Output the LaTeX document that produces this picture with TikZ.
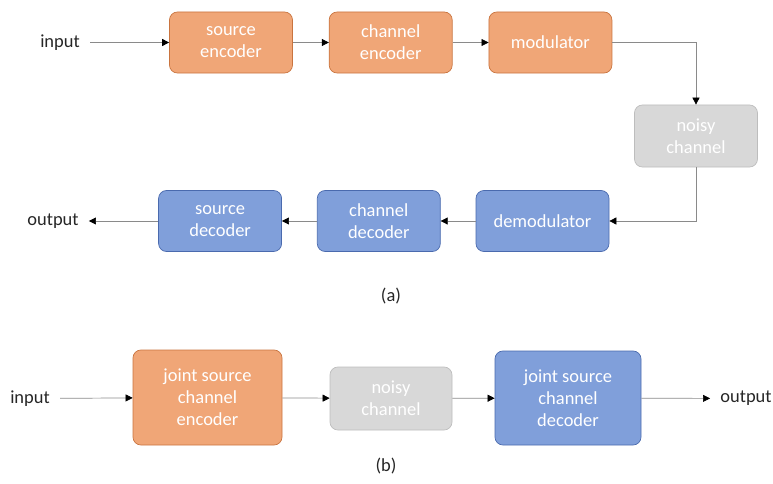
\documentclass[tikz,border=0pt]{standalone}
\usepackage{fontspec}
\setmainfont{Carlito}
\usepackage{tikz}
\usetikzlibrary{positioning, calc, arrows.meta}
\usepackage{xcolor}
\definecolor{EncOrange}{HTML}{F0A677}
\definecolor{EncEdge}{HTML}{C9743F}
\definecolor{DecBlue}{HTML}{809FDA}
\definecolor{DecEdge}{HTML}{4A6AAE}
\definecolor{NoiseGray}{HTML}{D8D8D8}
\definecolor{NoiseEdge}{HTML}{BDBDBD}
\definecolor{WireGray}{HTML}{8A8A8A}
\definecolor{InkGray}{HTML}{262626}

\begin{document}
\begin{tikzpicture}[
  node distance=0.72cm and 0.72cm,
  font=\fontsize{10.5}{12.5}\selectfont,
  encbox/.style={rectangle, rounded corners=4.5pt, draw=EncEdge, fill=EncOrange,
    minimum width=2.46cm, minimum height=1.22cm, align=center, text=white,
    inner sep=2pt},
  decbox/.style={rectangle, rounded corners=4.5pt, draw=DecEdge, fill=DecBlue,
    minimum width=2.46cm, minimum height=1.22cm, align=center, text=white,
    inner sep=2pt},
  noisebox/.style={rectangle, rounded corners=4.5pt, draw=NoiseEdge, fill=NoiseGray,
    minimum width=2.46cm, minimum height=1.24cm, align=center, text=white,
    inner sep=2pt},
  arr/.style={-{Triangle[length=4pt, width=4pt, color=black]}, thin, color=WireGray},
  label/.style={text=InkGray, inner sep=0.2cm}
]
  \useasboundingbox (0,0) rectangle (15.46,9.66);

  % (a) separate source and channel coding
  \node[encbox] at (4.62,8.81) (srcenc) {source\\encoder};
  \node[encbox, right=of srcenc] (chenc) {channel\\encoder};
  \node[encbox, right=of chenc] (mod) {modulator};
  \node[noisebox] at (13.92,6.94) (noisy) {noisy\\channel};
  \node[decbox, minimum width=2.66cm] at (10.85,5.24) (demod) {demodulator};
  \node[decbox, left=0.7cm of demod] (chdec) {channel\\decoder};
  \node[decbox, left=0.7cm of chdec] (srcdec) {source\\decoder};

  \node[label] at (1.2,8.81) (in) {input};
  \node[label] at (1.06,5.24) (out) {output};
  \node[label] at (7.82,3.74) (capa) {(a)};

  \draw[arr] (in) -- (srcenc);
  \draw[arr] (srcenc) -- (chenc);
  \draw[arr] (chenc) -- (mod);
  \draw[arr] (mod) -| (noisy);
  \draw[arr] (noisy) |- (demod);
  \draw[arr] (demod) -- (chdec);
  \draw[arr] (chdec) -- (srcdec);
  \draw[arr] (srcdec) -- (out);

  % (b) joint source channel coding
  \node[encbox, minimum width=2.98cm, minimum height=1.9cm] at (4.15,1.71) (jenc) {joint source\\channel\\encoder};
  \node[noisebox, minimum width=2.44cm, minimum height=1.26cm] at (7.82,1.69) (noisyb) {noisy\\channel};
  \node[decbox, minimum width=2.92cm, minimum height=1.88cm] at (11.36,1.70) (jdec) {joint source\\channel\\decoder};

  \node[label] at (0.6,1.69) (inb) {input};
  \node[label] at (14.92,1.69) (outb) {output};
  \node[label] at (7.72,0.34) (capb) {(b)};

  \draw[arr] (inb) -- (jenc);
  \draw[arr] (jenc) -- (noisyb);
  \draw[arr] (noisyb) -- (jdec);
  \draw[arr] (jdec) -- (outb);
\end{tikzpicture}
\end{document}
